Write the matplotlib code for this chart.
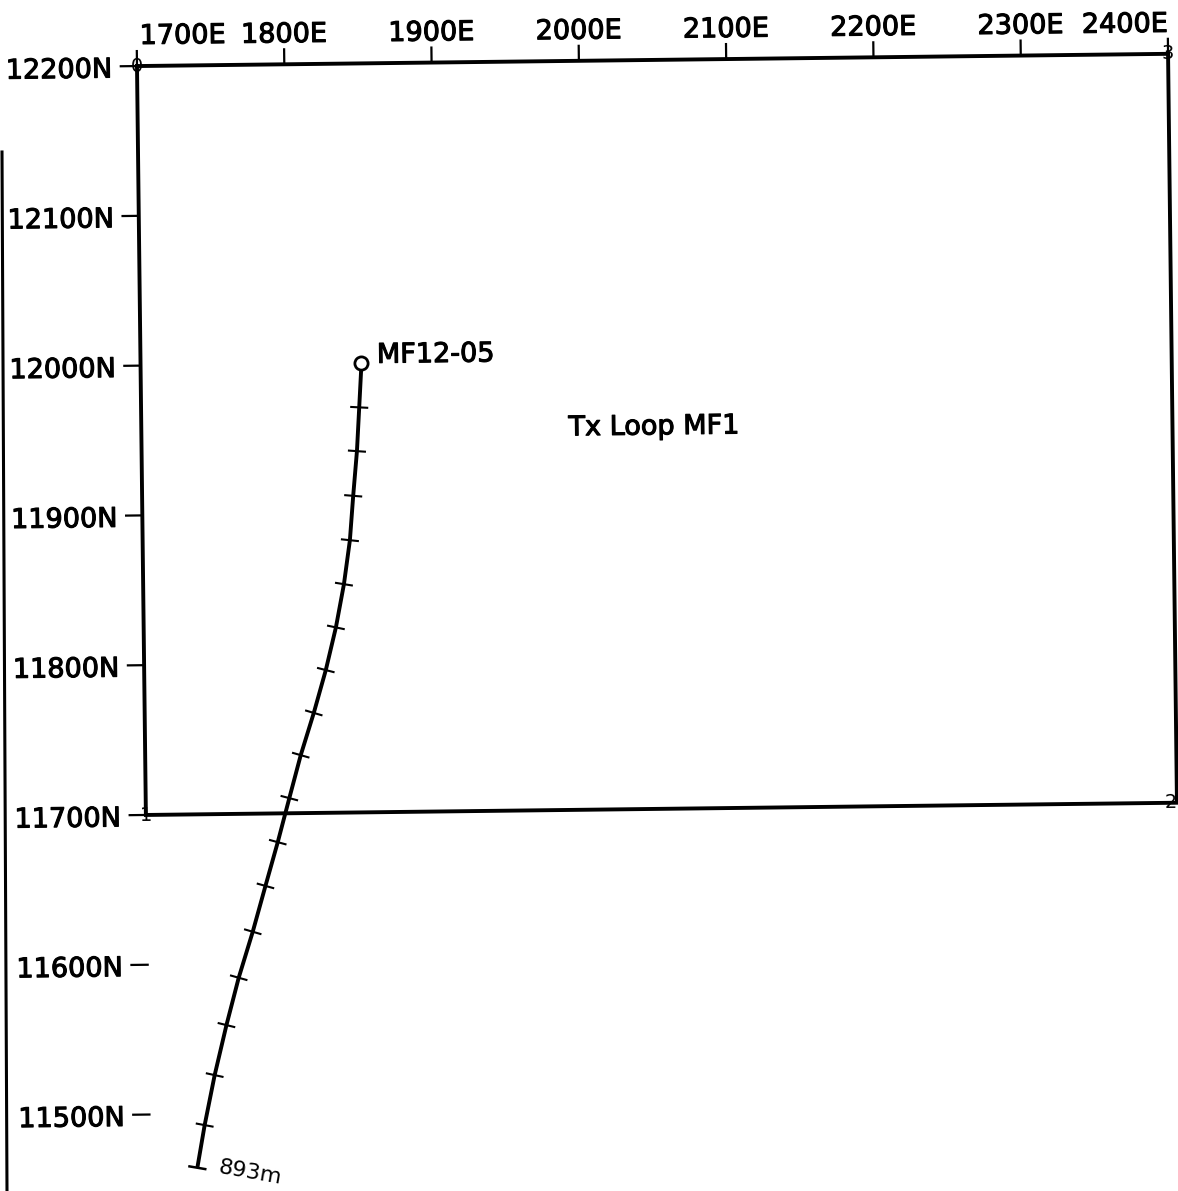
import numpy as np
import matplotlib
matplotlib.use('Agg')
import matplotlib.pyplot as plt
import matplotlib.transforms as mtransforms
import matplotlib.patheffects as pe
from matplotlib.lines import Line2D

# Tx loop MF1 corners (local grid, metres)
loop_east = [1700, 2400, 2400, 1700, 1700]
loop_north = [12200, 12200, 11700, 11700, 12200]
loop_name = 'Tx Loop MF1'

# loop vertex numbers: TL, BL, BR, TR
vertex_ids = ['0', '1', '2', '3']
vertex_east = [1700, 1700, 2400, 2400]
vertex_north = [12200, 11700, 11700, 12200]

# grid labels
east_ticks = [1700, 1800, 1900, 2000, 2100, 2200, 2300, 2400]
north_ticks = [12200, 12100, 12000, 11900, 11800, 11700, 11600, 11500]

# drill hole MF12-05, plan trace at 50 m depth marks
hole_name = 'MF12-05'
hole_depth = [0, 50, 100, 150, 200, 250, 300, 350, 400, 450, 500, 550, 600,
              650, 700, 750, 800, 850, 893]
hole_east = [1850.0, 1848.1, 1846.2, 1843.3, 1840.7, 1836.3, 1830.5, 1823.3,
             1814.8, 1805.6, 1797.5, 1789.3, 1780.6, 1771.6, 1761.7, 1753.0,
             1744.6, 1737.4, 1732.1]
hole_north = [12000.0, 11970.4, 11941.2, 11911.4, 11881.8, 11852.5, 11823.7,
              11795.3, 11766.8, 11738.7, 11710.1, 11680.8, 11651.7, 11621.2,
              11590.6, 11559.1, 11525.8, 11492.5, 11464.1]

W, H = 1178, 1191
fig = plt.figure(figsize=(W / 100, H / 100), dpi=100)
ax = fig.add_axes([0, 0, 1, 1])
ax.set_xlim(1607.0, 2406.7)
ax.set_ylim(11449.0, 12244.1)
ax.axis('off')

# sheet is a little skewed on the scanner
skew = 0.68
cx, cy = ax.transData.transform((1700, 12200))
rot = mtransforms.Affine2D().rotate_deg_around(cx, cy, skew)
T = ax.transData + rot

# plotter lettering is a bit heavier than the plain font
heavy = [pe.withStroke(linewidth=0.8, foreground='black')]
fs = 19.5
txt = dict(color='black', fontsize=fs, family='DejaVu Sans',
           rotation=skew, rotation_mode='anchor', transform=T,
           path_effects=heavy)

# loop outline
ax.plot(loop_east, loop_north, color='black', lw=2.8, transform=T,
        solid_joinstyle='miter')
for vid, e, n in zip(vertex_ids, vertex_east, vertex_north):
    ha = 'right' if e == max(vertex_east) and n == min(vertex_north) else 'center'
    ax.text(e, n, vid, ha=ha, va='center', color='black', fontsize=14,
            rotation=skew, rotation_mode='anchor', transform=T)
ax.text(1990, 11950, loop_name, ha='left', va='baseline', **txt)

# easting ticks along the top edge
for i, e in enumerate(east_ticks):
    ax.plot([e, e], [12200, 12210], color='black', lw=1.6, transform=T)
    if i == 0:
        ax.text(e + 2, 12214.7, f'{e}E', ha='left', va='baseline', **txt)
    elif i == len(east_ticks) - 1:
        ax.text(e, 12214.7, f'{e}E', ha='right', va='baseline', **txt)
    else:
        ax.text(e, 12214.7, f'{e}E', ha='center', va='baseline', **txt)

# northing ticks down the left edge
for n in north_ticks:
    ax.plot([1689, 1700], [n, n], color='black', lw=1.6, transform=T)
    ax.text(1683, n - 7.4, f'{n}N', ha='right', va='baseline', **txt)

# hole trace
ax.plot(hole_east, hole_north, color='black', lw=2.8, transform=T,
        solid_capstyle='butt', zorder=3)
ax.plot(hole_east[0], hole_north[0], 'o', ms=9.5, mfc='white', mec='black',
        mew=2.0, transform=T, zorder=4)
ax.text(1860.5, 12000, hole_name, ha='left', va='baseline', **txt)

# depth marks perpendicular to the trace, worked out in pixels
pts = ax.transData.transform(np.column_stack([hole_east, hole_north]))
half = 8.0
for i in range(1, len(pts)):
    if i < len(pts) - 1:
        d = pts[i + 1] - pts[i - 1]
        w = 1.5
    else:
        d = pts[i] - pts[i - 1]
        w = 1.8
    d = d / np.hypot(*d)
    p = np.array([-d[1], d[0]]) * half
    a, b = pts[i] - p, pts[i] + p
    ax.plot([a[0], b[0]], [a[1], b[1]], color='black', lw=w, transform=rot,
            zorder=3)

end_label = f'{hole_depth[-1]}m'
ax.text(1745.8, 11460.4, end_label, ha='left', va='baseline', color='black',
        fontsize=16, rotation=-10, rotation_mode='anchor', transform=T)

# edge of the sheet
fig.add_artist(Line2D([2 / W, 7 / W], [1 - 152 / H, 0], color='black', lw=2.2))

fig.savefig('out.png', dpi=100, facecolor='white')
